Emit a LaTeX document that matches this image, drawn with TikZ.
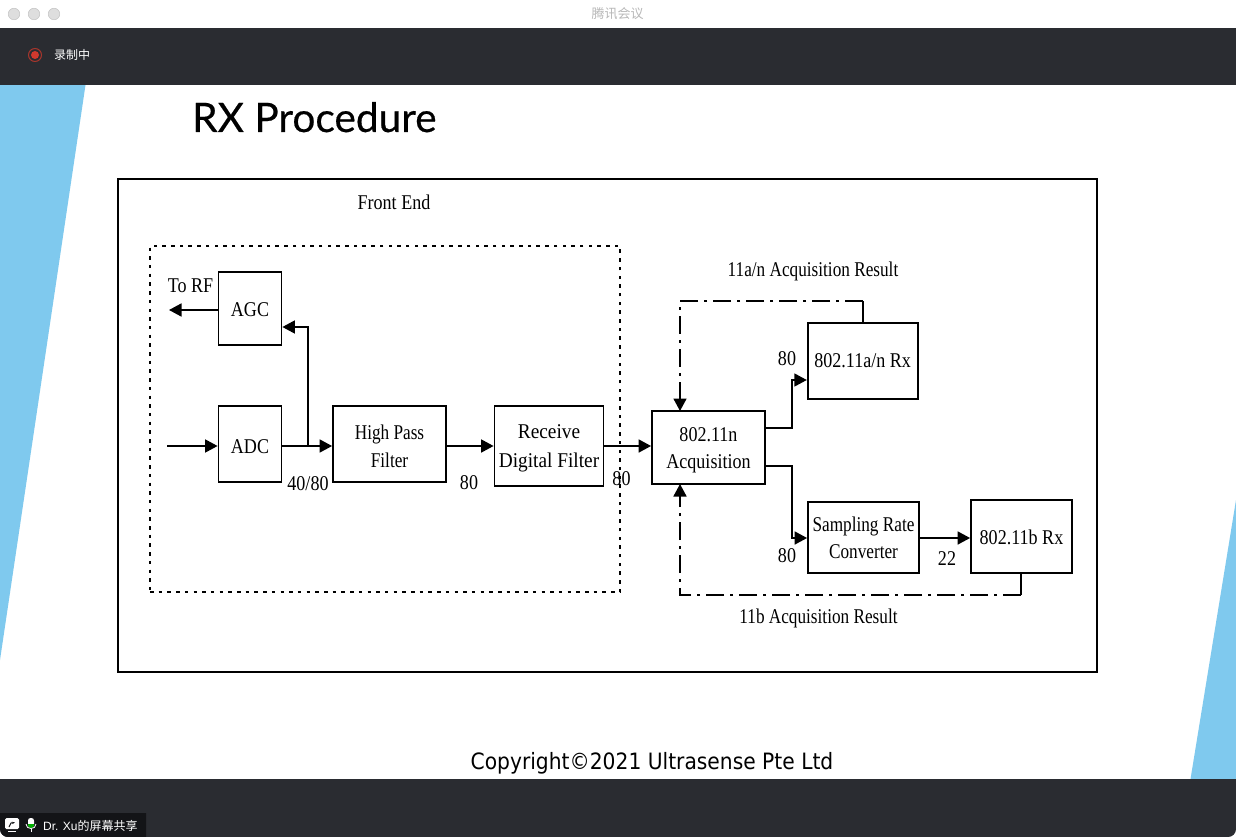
\documentclass[tikz,border=0pt]{standalone}
\usepackage{fontspec}
\usetikzlibrary{arrows.meta}
\setmainfont{Liberation Serif}
\newfontfamily\scanfont[FakeStretch=0.86]{Liberation Serif}
\newfontfamily\scannarrow[FakeStretch=0.82]{Liberation Serif}
\newfontfamily\scanwide[FakeStretch=0.92]{Liberation Serif}
\newfontfamily\cjkfont{Noto Sans CJK SC}
\newfontfamily\titlefont[FakeBold=0.5]{Lato}
\newfontfamily\copyfont[FakeStretch=0.9]{DejaVu Sans}
\newfontfamily\uifont{Liberation Sans}
\definecolor{barcol}{HTML}{2A2C31}
\definecolor{wedge}{HTML}{7FC9EE}
\definecolor{pillcol}{HTML}{131417}
\definecolor{dotcol}{HTML}{DEDEDE}
\definecolor{dotedge}{HTML}{C4C4C4}
\definecolor{rec}{HTML}{D0392E}
\definecolor{recring}{HTML}{A5352C}
\newcommand\dn[2][5pt]{\vbox{\kern#1\halign{\hfil##\hfil\cr#2\cr}}}
\tikzset{
  x=1pt,y=-1pt,
  boxn/.style={draw=black,line width=1.8pt,fill=none,inner sep=0pt,font=\scanfont\fontsize{21}{27.5}\selectfont},
  lab/.style={inner sep=0pt,font=\scanfont\fontsize{21}{25}\selectfont},
  wire/.style={line width=1.7pt,draw=black},
  arr/.style={wire,-{Triangle[length=12.5pt,width=13pt]}},
  dashdot/.style={line width=1.8pt,draw=black,dash pattern=on 18pt off 6pt on 3pt off 6pt},
  dotfr/.style={line width=1.4pt,draw=black,dash pattern=on 3.5pt off 5.2pt},
  dot/.style={circle,draw=dotedge,fill=dotcol,line width=.5pt,minimum size=11.5pt,inner sep=0pt},
}
\begin{document}
\begin{tikzpicture}
\useasboundingbox (0,0) rectangle (1236,837);
\fill[white] (0,0) rectangle (1236,837);
% backdrop
\fill[wedge] (0,85) -- (85.5,85) -- (0,660) -- cycle;
\fill[wedge] (1236,500) -- (1236,779) -- (1190.5,779) -- cycle;
% window bars
\fill[barcol] (0,28) rectangle (1236,85);
\fill[barcol] (0,779) -- (1236,779) -- (1236,829) arc[start angle=0,end angle=90,radius=8] -- (8,837) arc[start angle=90,end angle=180,radius=8] -- cycle;
\node[dot] (d1) at (14,14) {};
\node[dot] (d2) at (34,14) {};
\node[dot] (d3) at (54,14) {};
\node[inner sep=0pt,text=black!28,font=\cjkfont\fontsize{13}{15}\selectfont] (wintitle) at (617.5,13.5) {腾讯会议};
\node[circle,draw=recring,line width=1pt,minimum size=13pt,inner sep=0pt] (recr) at (35,55) {};
\node[circle,fill=rec,minimum size=8pt,inner sep=0pt] (recdot) at (35,55) {};
\node[anchor=west,inner sep=0pt,text=white,font=\cjkfont\fontsize{12}{14}\selectfont] (rectxt) at (54,55) {录制中};
% share pill
\fill[pillcol] (0,813) -- (146,813) -- (146,837) -- (8,837) arc[start angle=90,end angle=180,radius=8] -- cycle;
\fill[white,rounded corners=1.5pt] (5,818) rectangle (19,829);
\fill[white] (8,831) rectangle (16,832.2);
\draw[pillcol,line width=1pt,-{Stealth[length=3pt]}] (9,827) -- (11,823) -- (15,822.5);
\fill[white,rounded corners=2.5pt] (28,818) rectangle (34,827);
\fill[green!70!black] (28,824) -- (34,824) -- (34,825) arc[start angle=0,end angle=180,radius=3] -- cycle;
\draw[white,line width=.8pt] (26,824) .. controls (26,830) and (36,830) .. (36,824);
\draw[white,line width=.8pt] (31,829) -- (31,832);
\node[anchor=west,inner sep=0pt,text=white,font=\uifont\fontsize{12}{14}\selectfont] (sharetxt) at (43,825.5) {Dr. Xu{\cjkfont 的屏幕共享}};
% slide
\node[anchor=base west,inner sep=0pt,font=\titlefont\fontsize{40.6}{44}\selectfont] (title) at (192,132) {RX Procedure};
\node[anchor=base,inner sep=0pt,font=\copyfont\fontsize{22.5}{26}\selectfont] (copy) at (652,769.5) {Copyright©2021 Ultrasense Pte Ltd};
\node[draw=black,line width=2pt,minimum width=979pt,minimum height=493pt,inner sep=0pt] (outer) at (607,425.5) {};
\node[dotfr,draw,minimum width=470pt,minimum height=346pt,inner sep=0pt] (frontend) at (385,419) {};
% blocks
\node[boxn,minimum width=63pt,minimum height=73pt] (agc) at (250,308.5) {\dn[2pt]{AGC}};
\node[boxn,minimum width=63pt,minimum height=76pt] (adc) at (250,444) {\dn[5pt]{ADC}};
\node[boxn,minimum width=113pt,minimum height=76pt,font=\scannarrow\fontsize{21}{27.5}\selectfont] (hpf) at (389.5,444) {\dn[5pt]{High Pass\cr Filter}};
\node[boxn,minimum width=109pt,minimum height=80pt,font=\scanwide\fontsize{21}{29}\selectfont] (rdf) at (549,446) {\dn[4pt]{Receive\cr Digital Filter}};
\node[boxn,minimum width=113pt,minimum height=73pt] (acq) at (708.5,447.5) {\dn[5pt]{802.11n\cr Acquisition}};
\node[boxn,minimum width=110pt,minimum height=76pt] (anrx) at (862.7,361) {\dn[0pt]{802.11a/n Rx}};
\node[boxn,minimum width=111pt,minimum height=71pt,font=\scannarrow\fontsize{21}{27.5}\selectfont] (src) at (863.5,537.5) {\dn[1pt]{Sampling Rate\cr Converter}};
\node[boxn,minimum width=101pt,minimum height=73pt] (brx) at (1021.5,536.5) {\dn[2pt]{802.11b Rx}};
% labels
\node[lab] (lfront) at (394,202) {Front End};
\node[lab] (ltorf) at (190.5,286) {To RF};
\node[lab] (l4080) at (308,484) {40/80};
\node[lab] (l80a) at (469,483) {80};
\node[lab] (l80b) at (621.5,479) {80};
\node[lab] (l80c) at (787,359) {80};
\node[lab] (l80d) at (787,556) {80};
\node[lab] (l22) at (947,559) {22};
\node[lab,font=\scannarrow\fontsize{21}{25}\selectfont] (lres1) at (813,271) {11a/n Acquisition Result};
\node[lab,font=\scannarrow\fontsize{21}{25}\selectfont] (lres2) at (818.5,618) {11b Acquisition Result};
% free ends and bends
\coordinate (torf) at (169,310);
\coordinate (agcout) at (agc.west|-torf);
\coordinate (rxin) at (167,446);
\coordinate (adcin) at (adc.west|-rxin);
\coordinate (adcout) at (adc.east|-rxin);
\coordinate (hpfin) at (hpf.west|-rxin);
\coordinate (hpfout) at (hpf.east|-rxin);
\coordinate (rdfin) at (rdf.west|-rxin);
\coordinate (tap) at (308,446);
\coordinate (agcin) at (agc.east|-{(0,327)});
\coordinate (acqin) at (acq.west|-rxin);
\coordinate (rdfout) at (rdf.east|-rxin);
\coordinate (anout) at (acq.east|-{(0,428)});
\coordinate (anin) at (anrx.west|-{(0,380)});
\coordinate (bout) at (acq.east|-{(0,466)});
\coordinate (srcin) at (src.west|-{(0,538)});
\coordinate (srcout) at (src.east|-srcin);
\coordinate (brxin) at (brx.west|-srcin);
\coordinate (fb1a) at (863,301);
\coordinate (fb1b) at (680,301);
\coordinate (fb1c) at (680,411);
\coordinate (fb2a) at (1021,595);
\coordinate (fb2b) at (680,595);
\coordinate (fb2c) at (680,484);
% connectors
\draw[arr] (agcout) -- (torf);
\draw[arr] (rxin) -- (adcin);
\draw[arr] (adcout) -- (hpfin);
\draw[arr] (tap) |- (agcin);
\draw[arr] (hpfout) -- (rdfin);
\draw[arr] (rdfout) -- (acqin);
\draw[arr] (anout) -- (792,428) |- (anin);
\draw[arr] (bout) -- (792,466) |- (srcin);
\draw[arr] (srcout) -- (brxin);
\draw[wire,line width=1.3pt] (anrx.north-|fb1a) -- (fb1a);
\draw[wire,line width=1.3pt] (brx.south-|fb2a) -- (fb2a);
\draw[dashdot] (fb1a) -- (fb1b) -- (680,396);
\draw[arr] (680,394) -- (fb1c);
\draw[dashdot] (fb2a) -- (fb2b) -- (680,499);
\draw[arr] (680,501) -- (fb2c);
\end{tikzpicture}
\end{document}
